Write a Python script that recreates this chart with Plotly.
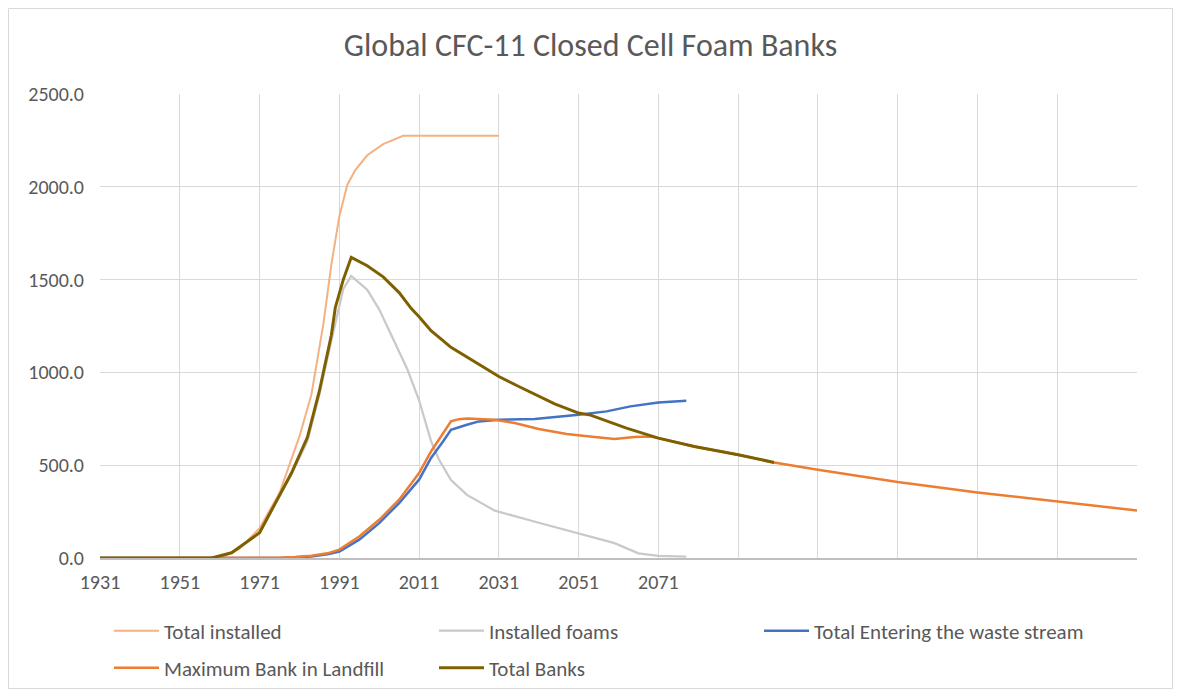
import plotly.graph_objects as go

# ---- data ----
installed_total_years = [1931, 1958, 1962, 1966, 1971, 1976, 1981, 1984, 1987, 1989, 1991, 1993, 1995, 1998, 2002, 2007, 2031]
installed_total_vals = [0, 0, 10, 50, 160, 350, 655, 880, 1260, 1580, 1840, 2010, 2090, 2170, 2230, 2275, 2275]

installed_foams_years = [1931, 1959, 1964, 1971, 1975, 1979, 1983, 1986, 1989, 1991, 1992, 1994, 1998, 2001, 2004, 2008, 2011, 2014, 2016, 2019, 2023, 2030, 2041, 2051, 2060, 2066, 2071, 2078]
installed_foams_vals = [0, 0, 28, 134, 293, 450, 630, 880, 1170, 1360, 1450, 1520, 1445, 1340, 1200, 1020, 850, 630, 530, 420, 340, 255, 190, 131, 80, 25, 12, 8]

waste_years = [1931, 1976, 1984, 1988, 1991, 1996, 2001, 2006, 2011, 2014, 2017, 2019, 2023, 2026, 2031, 2040, 2051, 2058, 2064, 2071, 2078]
waste_vals = [0, 0, 8, 20, 34, 99, 188, 296, 422, 539, 628, 691, 718, 736, 745, 749, 772, 790, 817, 838, 847]

landfill_years = [1931, 1972, 1976, 1980, 1984, 1988, 1991, 1996, 2001, 2006, 2011, 2014, 2017, 2019, 2021, 2023, 2030, 2035, 2041, 2048, 2055, 2060, 2065, 2069, 2071, 2080, 2091, 2100, 2111, 2131, 2151, 2171, 2191]
landfill_vals = [0, 0, 2, 5, 12, 25, 45, 116, 206, 314, 458, 574, 673, 736, 748, 752, 745, 727, 695, 668, 652, 641, 652, 655, 646, 601, 556, 515, 476, 409, 353, 305, 256]

banks_years = [1931, 1959, 1964, 1971, 1975, 1979, 1983, 1986, 1989, 1990, 1992, 1994, 1998, 2002, 2006, 2009, 2011, 2014, 2019, 2025, 2031, 2036, 2045, 2051, 2054, 2063, 2071, 2080, 2091, 2100]
banks_vals = [0, 0, 28, 136, 297, 458, 650, 900, 1200, 1350, 1500, 1620, 1575, 1515, 1430, 1345, 1300, 1225, 1135, 1055, 978, 924, 830, 781, 770, 700, 646, 601, 556, 515]

tick_years = list(range(1931, 2192, 20))
tick_labels = [str(y) if y <= 2071 else "" for y in tick_years]
y_ticks = [0, 500, 1000, 1500, 2000, 2500]

title_text = "Global CFC-11 Closed Cell Foam Banks"

# ---- figure (page body adds an 8px margin) ----
W, H = 1165, 681
ml, mr, mt, mb = 92, 36, 86, 131
pw, ph = W - ml - mr, H - mt - mb

FONT = "Carlito, Calibri, Lato, 'Open Sans', sans-serif"
TXT = "#595959"

fig = go.Figure()
fig.add_trace(go.Scatter(x=installed_total_years, y=installed_total_vals, mode="lines",
                         name="Total installed", line=dict(color="#F4B183", width=2), legend="legend"))
fig.add_trace(go.Scatter(x=installed_foams_years, y=installed_foams_vals, mode="lines",
                         name="Installed foams", line=dict(color="#C9C9C9", width=2.25), legend="legend"))
fig.add_trace(go.Scatter(x=waste_years, y=waste_vals, mode="lines",
                         name="Total Entering the waste stream", line=dict(color="#4472C4", width=2.5), legend="legend"))
fig.add_trace(go.Scatter(x=landfill_years, y=landfill_vals, mode="lines",
                         name="Maximum Bank in Landfill", line=dict(color="#ED7D31", width=2.5), legend="legend2"))
fig.add_trace(go.Scatter(x=banks_years, y=banks_vals, mode="lines",
                         name="Total Banks", line=dict(color="#7F6000", width=3), legend="legend2"))

def px_to_paper_x(px):
    return (px - ml) / pw

def px_to_paper_y(py):
    return (H - mb - py) / ph

legend_common = dict(orientation="h", xanchor="left", yanchor="middle",
                     xref="container", yref="container",
                     font=dict(family=FONT, size=21, color=TXT),
                     entrywidth=265, entrywidthmode="pixels", itemwidth=45,
                     bgcolor="rgba(0,0,0,0)", traceorder="normal")

fig.update_layout(
    width=W, height=H,
    margin=dict(l=ml, r=mr, t=mt, b=mb, autoexpand=False),
    paper_bgcolor="white", plot_bgcolor="white",
    font=dict(family=FONT, color=TXT),
    title=dict(text=title_text, x=0.5, xanchor="center", y=1 - 37 / H, yanchor="middle",
               font=dict(family=FONT, size=32, color=TXT)),
    xaxis=dict(range=[1931, 2191], tickmode="array", tickvals=tick_years, ticktext=tick_labels,
               showgrid=True, gridcolor="#D9D9D9", gridwidth=1,
               showline=True, linecolor="#BFBFBF", linewidth=1.5,
               ticks="", zeroline=False, ticklabelstandoff=5,
               tickfont=dict(family=FONT, size=20, color=TXT)),
    yaxis=dict(range=[0, 2500], tickmode="array", tickvals=y_ticks, tickformat=".1f",
               showgrid=True, gridcolor="#D9D9D9", gridwidth=1,
               showline=False, zeroline=False, ticks="", ticklabelstandoff=15,
               tickfont=dict(family=FONT, size=20, color=TXT)),
    legend=dict(x=101 / W, y=1 - 623 / H, **legend_common),
    legend2=dict(x=101 / W, y=1 - 660 / H, **legend_common),
    showlegend=True,
)

# outer chart border
fig.add_shape(type="rect", xref="paper", yref="paper",
              x0=px_to_paper_x(0.5), x1=px_to_paper_x(W - 0.5),
              y0=px_to_paper_y(H - 0.5), y1=px_to_paper_y(0.5),
              line=dict(color="#D9D9D9", width=1), fillcolor="rgba(0,0,0,0)", layer="below")

fig.write_html("out.html")
